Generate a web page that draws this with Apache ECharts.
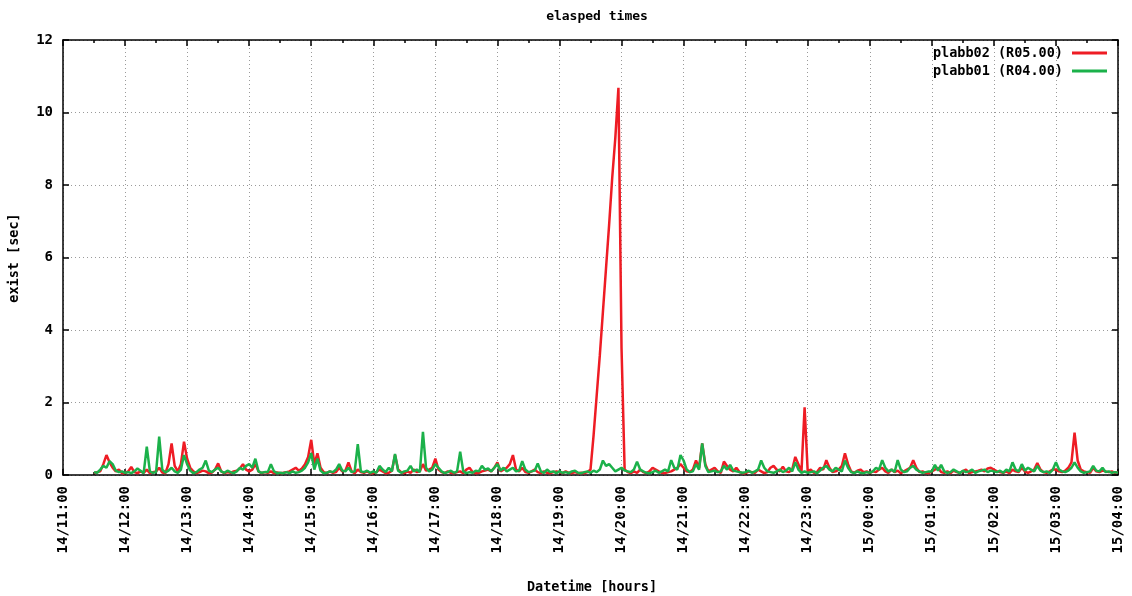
<!DOCTYPE html>
<html>
<head>
<meta charset="utf-8">
<title>elasped times</title>
<script src="https://cdn.jsdelivr.net/npm/echarts@6/dist/echarts.min.js"></script>
<style>
  html, body { margin: 0; padding: 0; background: #fff; }
  #chart { width: 1132px; height: 596px; }
</style>
</head>
<body>
<div id="chart"></div>
<script>
// Hour tick labels, one per hour from 14/11:00 to 15/04:00
var tickLabels = ['14/11:00', '14/12:00', '14/13:00', '14/14:00', '14/15:00', '14/16:00',
  '14/17:00', '14/18:00', '14/19:00', '14/20:00', '14/21:00', '14/22:00', '14/23:00',
  '15/00:00', '15/01:00', '15/02:00', '15/03:00', '15/04:00'];

// Samples every 3 minutes, first one at 14/11:30 (minutes counted from 14/11:00)
var startMinute = 30;
var stepMinutes = 3;

// plabb02 (R05.00) elapsed seconds
var plabb02 = [
  /* 11:30 */ 0.05, 0.08, 0.10, 0.30, 0.55, 0.35, 0.20, 0.10, 0.15, 0.05,
  /* 12:00 */ 0.05, 0.10, 0.22, 0.08, 0.05, 0.10, 0.06, 0.15, 0.05, 0.08, 0.10, 0.20, 0.07, 0.05, 0.30, 0.87, 0.25, 0.10, 0.30, 0.92,
  /* 13:00 */ 0.45, 0.20, 0.10, 0.05, 0.08, 0.12, 0.10, 0.05, 0.07, 0.15, 0.32, 0.10, 0.05, 0.08, 0.06, 0.10, 0.12, 0.18, 0.30, 0.15,
  /* 14:00 */ 0.10, 0.15, 0.30, 0.10, 0.05, 0.08, 0.06, 0.10, 0.05, 0.07, 0.05, 0.06, 0.08, 0.10, 0.15, 0.20, 0.12, 0.18, 0.30, 0.50,
  /* 15:00 */ 0.97, 0.30, 0.60, 0.20, 0.08, 0.05, 0.10, 0.06, 0.08, 0.20, 0.10, 0.12, 0.35, 0.10, 0.05, 0.15, 0.08, 0.06, 0.10, 0.05,
  /* 16:00 */ 0.05, 0.08, 0.15, 0.10, 0.05, 0.06, 0.12, 0.55, 0.15, 0.08, 0.05, 0.10, 0.06, 0.15, 0.08, 0.10, 0.30, 0.12, 0.15, 0.20,
  /* 17:00 */ 0.45, 0.15, 0.08, 0.05, 0.10, 0.06, 0.05, 0.08, 0.10, 0.05, 0.15, 0.20, 0.08, 0.05, 0.06, 0.10, 0.12, 0.15, 0.10, 0.20,
  /* 18:00 */ 0.35, 0.10, 0.15, 0.20, 0.30, 0.55, 0.15, 0.10, 0.20, 0.08, 0.06, 0.10, 0.15, 0.08, 0.05, 0.10, 0.06, 0.05, 0.08, 0.10,
  /* 19:00 */ 0.08, 0.05, 0.10, 0.06, 0.05, 0.08, 0.05, 0.06, 0.05, 0.08, 0.15, 1.10, 2.20, 3.30, 4.50, 5.70, 6.90, 8.20, 9.30, 10.68,
  /* 20:00 */ 3.50, 0.15, 0.08, 0.05, 0.10, 0.06, 0.15, 0.08, 0.05, 0.10, 0.20, 0.15, 0.10, 0.06, 0.05, 0.08, 0.10, 0.15, 0.20, 0.30,
  /* 21:00 */ 0.20, 0.10, 0.08, 0.15, 0.40, 0.20, 0.87, 0.30, 0.10, 0.15, 0.20, 0.10, 0.06, 0.37, 0.25, 0.15, 0.10, 0.20, 0.08, 0.05,
  /* 22:00 */ 0.05, 0.10, 0.08, 0.06, 0.15, 0.10, 0.05, 0.08, 0.20, 0.25, 0.15, 0.10, 0.23, 0.10, 0.08, 0.15, 0.50, 0.30, 0.10, 1.87,
  /* 23:00 */ 0.10, 0.15, 0.06, 0.08, 0.20, 0.15, 0.41, 0.20, 0.08, 0.10, 0.15, 0.25, 0.60, 0.30, 0.10, 0.06, 0.12, 0.15, 0.08, 0.10,
  /* 00:00 */ 0.05, 0.10, 0.08, 0.15, 0.20, 0.10, 0.06, 0.15, 0.08, 0.12, 0.05, 0.10, 0.15, 0.20, 0.41, 0.20, 0.08, 0.10, 0.06, 0.05,
  /* 01:00 */ 0.10, 0.15, 0.20, 0.08, 0.06, 0.10, 0.05, 0.12, 0.08, 0.06, 0.10, 0.15, 0.05, 0.08, 0.10, 0.12, 0.15, 0.10, 0.18, 0.20,
  /* 02:00 */ 0.15, 0.10, 0.08, 0.06, 0.10, 0.05, 0.15, 0.10, 0.08, 0.20, 0.10, 0.06, 0.10, 0.15, 0.33, 0.15, 0.08, 0.06, 0.10, 0.15,
  /* 03:00 */ 0.15, 0.10, 0.08, 0.12, 0.20, 0.35, 1.17, 0.40, 0.15, 0.10, 0.08, 0.06, 0.20, 0.10, 0.08, 0.12, 0.10, 0.08, 0.10, 0.06,
  /* 04:00 */ 0.08
];

// plabb01 (R04.00) elapsed seconds
var plabb01 = [
  /* 11:30 */ 0.08, 0.06, 0.15, 0.25, 0.20, 0.38, 0.30, 0.12, 0.08, 0.10,
  /* 12:00 */ 0.06, 0.08, 0.05, 0.10, 0.18, 0.12, 0.05, 0.78, 0.10, 0.06, 0.08, 1.06, 0.15, 0.07, 0.12, 0.20, 0.10, 0.06, 0.15, 0.55,
  /* 13:00 */ 0.30, 0.12, 0.05, 0.08, 0.15, 0.20, 0.40, 0.12, 0.08, 0.15, 0.20, 0.10, 0.06, 0.12, 0.08, 0.05, 0.10, 0.20, 0.15, 0.25,
  /* 14:00 */ 0.30, 0.20, 0.45, 0.10, 0.06, 0.08, 0.08, 0.30, 0.10, 0.05, 0.06, 0.05, 0.08, 0.05, 0.10, 0.06, 0.08, 0.12, 0.20, 0.35,
  /* 15:00 */ 0.60, 0.15, 0.45, 0.12, 0.05, 0.06, 0.10, 0.08, 0.15, 0.30, 0.12, 0.10, 0.20, 0.08, 0.10, 0.85, 0.10, 0.08, 0.12, 0.06,
  /* 16:00 */ 0.10, 0.06, 0.25, 0.15, 0.08, 0.20, 0.10, 0.58, 0.12, 0.06, 0.10, 0.12, 0.25, 0.10, 0.15, 0.08, 1.19, 0.20, 0.10, 0.15,
  /* 17:00 */ 0.30, 0.20, 0.10, 0.05, 0.08, 0.12, 0.06, 0.10, 0.64, 0.10, 0.05, 0.08, 0.06, 0.12, 0.10, 0.25, 0.15, 0.18, 0.10, 0.20,
  /* 18:00 */ 0.30, 0.12, 0.20, 0.10, 0.15, 0.20, 0.10, 0.12, 0.38, 0.15, 0.08, 0.10, 0.12, 0.32, 0.10, 0.06, 0.15, 0.08, 0.10, 0.05,
  /* 19:00 */ 0.10, 0.06, 0.08, 0.05, 0.10, 0.12, 0.06, 0.05, 0.08, 0.10, 0.06, 0.12, 0.08, 0.15, 0.40, 0.25, 0.30, 0.20, 0.10, 0.15,
  /* 20:00 */ 0.20, 0.12, 0.10, 0.08, 0.15, 0.37, 0.15, 0.10, 0.06, 0.05, 0.08, 0.12, 0.06, 0.10, 0.15, 0.10, 0.41, 0.20, 0.15, 0.55,
  /* 21:00 */ 0.40, 0.15, 0.08, 0.10, 0.30, 0.15, 0.87, 0.25, 0.08, 0.10, 0.12, 0.08, 0.10, 0.25, 0.15, 0.28, 0.12, 0.10, 0.08, 0.06,
  /* 22:00 */ 0.08, 0.12, 0.06, 0.10, 0.15, 0.40, 0.20, 0.10, 0.08, 0.06, 0.10, 0.15, 0.08, 0.12, 0.20, 0.10, 0.35, 0.15, 0.06, 0.10,
  /* 23:00 */ 0.06, 0.08, 0.10, 0.05, 0.12, 0.20, 0.25, 0.15, 0.10, 0.20, 0.15, 0.10, 0.40, 0.20, 0.08, 0.05, 0.10, 0.06, 0.05, 0.08,
  /* 00:00 */ 0.06, 0.10, 0.20, 0.15, 0.41, 0.20, 0.10, 0.15, 0.08, 0.41, 0.15, 0.08, 0.10, 0.20, 0.25, 0.15, 0.10, 0.06, 0.08, 0.10,
  /* 01:00 */ 0.10, 0.28, 0.12, 0.28, 0.10, 0.06, 0.08, 0.15, 0.10, 0.05, 0.12, 0.08, 0.10, 0.15, 0.06, 0.10, 0.12, 0.15, 0.08, 0.12,
  /* 02:00 */ 0.10, 0.08, 0.12, 0.06, 0.15, 0.10, 0.35, 0.15, 0.10, 0.30, 0.12, 0.20, 0.15, 0.10, 0.25, 0.12, 0.08, 0.10, 0.06, 0.15,
  /* 03:00 */ 0.35, 0.15, 0.10, 0.08, 0.12, 0.20, 0.35, 0.20, 0.10, 0.06, 0.08, 0.10, 0.25, 0.12, 0.10, 0.20, 0.08, 0.10, 0.06, 0.08,
  /* 04:00 */ 0.06
];

var seriesNames = ['plabb02 (R05.00)', 'plabb01 (R04.00)'];
var seriesColors = ['#ee1c24', '#1bb14a'];

function toPairs(values) {
  return values.map(function (v, i) { return [startMinute + i * stepMinutes, v]; });
}

var FONT = 'DejaVu Sans Mono';
var textBase = { fontFamily: FONT, fontWeight: 'bold', fontSize: 13, color: '#000' };

var chart = echarts.init(document.getElementById('chart'), null, { renderer: 'canvas' });

var gridLine = { show: true, lineStyle: { color: '#9a9a9a', width: 1, type: [1, 3] } };
var borderLine = { show: true, onZero: false, lineStyle: { color: '#000', width: 1.5 } };
var tickStyle = { color: '#000', width: 1.5 };

chart.setOption({
  animation: false,
  backgroundColor: '#fff',
  title: {
    text: 'elasped times',
    left: 592,
    top: 5,
    textAlign: 'center',
    textStyle: Object.assign({}, textBase)
  },
  legend: {
    orient: 'vertical',
    right: 20,
    top: 41,
    align: 'right',
    icon: 'rect',
    itemWidth: 35,
    itemHeight: 3,
    itemGap: 4,
    textStyle: Object.assign({ padding: [0, 4, 0, 0], lineHeight: 13 }, textBase, { fontSize: 13.5 }),
    data: seriesNames
  },
  grid: { left: 63, right: 14, top: 40, bottom: 121, containLabel: false },
  xAxis: [
    {
      type: 'value', min: 0, max: 1020, interval: 60, position: 'bottom',
      axisLine: borderLine,
      axisTick: { show: true, inside: true, length: 6, lineStyle: tickStyle },
      minorTick: { show: true, splitNumber: 2, length: 3, lineStyle: tickStyle },
      splitLine: gridLine,
      axisLabel: Object.assign({
        rotate: 90, margin: 11,
        formatter: function (v) { return tickLabels[Math.round(v / 60)]; }
      }, textBase, { fontSize: 14 })
    },
    {
      type: 'value', min: 0, max: 1020, interval: 60, position: 'top',
      axisLine: borderLine,
      axisTick: { show: true, inside: true, length: 6, lineStyle: tickStyle },
      minorTick: { show: true, splitNumber: 2, length: 3, lineStyle: tickStyle },
      splitLine: { show: false },
      axisLabel: { show: false }
    }
  ],
  yAxis: [
    {
      type: 'value', min: 0, max: 12, interval: 2, position: 'left',
      axisLine: borderLine,
      axisTick: { show: true, inside: true, length: 6, lineStyle: tickStyle },
      splitLine: gridLine,
      axisLabel: Object.assign({ margin: 10 }, textBase, { fontSize: 14 })
    },
    {
      type: 'value', min: 0, max: 12, interval: 2, position: 'right',
      axisLine: borderLine,
      axisTick: { show: true, inside: true, length: 6, lineStyle: tickStyle },
      splitLine: { show: false },
      axisLabel: { show: false }
    }
  ],
  graphic: [
    {
      type: 'text', x: 592, y: 587,
      style: { text: 'Datetime [hours]', textAlign: 'center', textVerticalAlign: 'middle',
        font: 'bold 13.5px "DejaVu Sans Mono"', fill: '#000' }
    },
    {
      type: 'text', x: 14, y: 258, rotation: Math.PI / 2,
      style: { text: 'exist [sec]', textAlign: 'center', textVerticalAlign: 'middle',
        font: 'bold 13.5px "DejaVu Sans Mono"', fill: '#000' }
    }
  ],
  series: [
    {
      name: seriesNames[0], type: 'line', xAxisIndex: 0, yAxisIndex: 0,
      showSymbol: false, symbol: 'none',
      lineStyle: { color: seriesColors[0], width: 2.5 },
      itemStyle: { color: seriesColors[0] },
      data: toPairs(plabb02)
    },
    {
      name: seriesNames[1], type: 'line', xAxisIndex: 0, yAxisIndex: 0,
      showSymbol: false, symbol: 'none',
      lineStyle: { color: seriesColors[1], width: 2.5 },
      itemStyle: { color: seriesColors[1] },
      data: toPairs(plabb01)
    }
  ]
});
</script>
</body>
</html>
